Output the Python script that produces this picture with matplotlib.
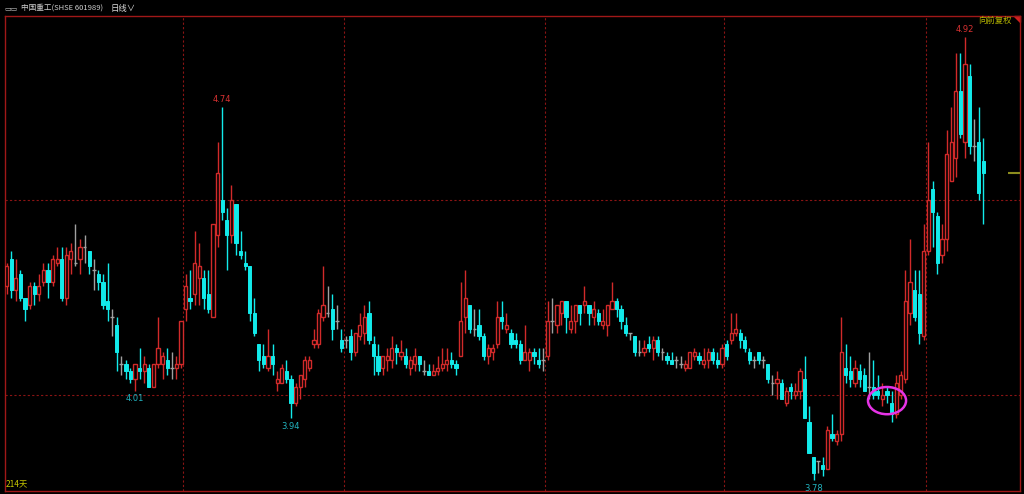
import numpy as np
import matplotlib
matplotlib.use('Agg')
import matplotlib.pyplot as plt
from matplotlib.patches import Ellipse, Polygon

# daily OHLC, 214 sessions
opens = [4.28, 4.35, 4.27, 4.31, 4.25, 4.23, 4.28, 4.26, 4.29, 4.32,
         4.29, 4.34, 4.35, 4.25, 4.35, 4.34, 4.35, 4.38, 4.37, 4.32,
         4.31, 4.29, 4.24, 4.20, 4.18, 4.08, 4.08, 4.06, 4.04, 4.07,
         4.06, 4.07, 4.02, 4.08, 4.08, 4.09, 4.07, 4.07, 4.08, 4.22,
         4.25, 4.26, 4.30, 4.30, 4.26, 4.20, 4.41, 4.50, 4.45, 4.41,
         4.49, 4.37, 4.34, 4.33, 4.21, 4.13, 4.10, 4.07, 4.10, 4.03,
         4.03, 4.06, 4.04, 3.98, 4.02, 4.04, 4.07, 4.13, 4.13, 4.20,
         4.21, 4.22, 4.19, 4.14, 4.14, 4.15, 4.11, 4.15, 4.16, 4.21,
         4.13, 4.10, 4.07, 4.09, 4.09, 4.12, 4.10, 4.10, 4.07, 4.08,
         4.10, 4.06, 4.06, 4.05, 4.06, 4.07, 4.08, 4.09, 4.08, 4.10,
         4.20, 4.23, 4.17, 4.18, 4.15, 4.10, 4.11, 4.13, 4.20, 4.17,
         4.16, 4.14, 4.13, 4.09, 4.09, 4.11, 4.09, 4.09, 4.10, 4.19,
         4.18, 4.21, 4.24, 4.17, 4.19, 4.23, 4.23, 4.23, 4.20, 4.21,
         4.18, 4.18, 4.22, 4.24, 4.22, 4.18, 4.16, 4.15, 4.11, 4.11,
         4.13, 4.12, 4.14, 4.11, 4.10, 4.09, 4.09, 4.08, 4.07, 4.07,
         4.10, 4.10, 4.08, 4.09, 4.11, 4.09, 4.08, 4.13, 4.14, 4.16,
         4.16, 4.14, 4.11, 4.09, 4.11, 4.09, 4.08, 4.03, 4.03, 4.03,
         3.98, 4.02, 4.00, 4.01, 4.04, 3.93, 3.84, 3.83, 3.82, 3.81,
         3.90, 3.88, 3.90, 4.07, 4.06, 4.03, 4.06, 4.05, 4.02, 4.02,
         4.01, 3.99, 4.01, 3.98, 3.95, 4.00, 4.04, 4.21, 4.27, 4.26,
         4.15, 4.37, 4.53, 4.46, 4.36, 4.40, 4.55, 4.61, 4.78, 4.65,
         4.82, 4.64, 4.65, 4.60]
highs = [4.34, 4.37, 4.35, 4.32, 4.25, 4.29, 4.29, 4.31, 4.34, 4.34,
         4.36, 4.38, 4.38, 4.38, 4.39, 4.44, 4.40, 4.41, 4.37, 4.35,
         4.32, 4.31, 4.34, 4.22, 4.20, 4.10, 4.09, 4.07, 4.08, 4.12,
         4.10, 4.08, 4.08, 4.20, 4.11, 4.12, 4.11, 4.10, 4.19, 4.31,
         4.32, 4.42, 4.39, 4.32, 4.32, 4.44, 4.65, 4.74, 4.48, 4.54,
         4.49, 4.42, 4.37, 4.33, 4.25, 4.13, 4.13, 4.17, 4.13, 4.06,
         4.08, 4.09, 4.05, 4.03, 4.05, 4.10, 4.10, 4.17, 4.22, 4.33,
         4.28, 4.26, 4.23, 4.17, 4.15, 4.17, 4.16, 4.21, 4.23, 4.24,
         4.15, 4.13, 4.10, 4.12, 4.15, 4.13, 4.14, 4.12, 4.10, 4.12,
         4.10, 4.09, 4.08, 4.08, 4.10, 4.12, 4.12, 4.11, 4.09, 4.29,
         4.32, 4.23, 4.22, 4.22, 4.16, 4.13, 4.13, 4.24, 4.24, 4.21,
         4.17, 4.16, 4.14, 4.18, 4.12, 4.12, 4.12, 4.12, 4.24, 4.25,
         4.23, 4.24, 4.24, 4.23, 4.23, 4.23, 4.28, 4.23, 4.24, 4.22,
         4.22, 4.23, 4.29, 4.25, 4.23, 4.20, 4.16, 4.15, 4.14, 4.14,
         4.15, 4.15, 4.15, 4.12, 4.11, 4.11, 4.10, 4.10, 4.09, 4.11,
         4.12, 4.11, 4.12, 4.12, 4.12, 4.11, 4.13, 4.14, 4.21, 4.21,
         4.17, 4.15, 4.12, 4.10, 4.11, 4.10, 4.08, 4.05, 4.06, 4.04,
         4.02, 4.03, 4.03, 4.07, 4.10, 3.97, 3.84, 3.83, 3.84, 3.92,
         3.95, 3.91, 4.20, 4.13, 4.10, 4.09, 4.08, 4.07, 4.11, 4.09,
         4.05, 4.03, 4.02, 4.01, 4.05, 4.06, 4.32, 4.40, 4.32, 4.32,
         4.44, 4.65, 4.55, 4.47, 4.44, 4.68, 4.74, 4.88, 4.88, 4.92,
         4.85, 4.71, 4.74, 4.66]
lows = [4.26, 4.25, 4.24, 4.24, 4.19, 4.22, 4.23, 4.24, 4.28, 4.25,
        4.28, 4.33, 4.24, 4.23, 4.31, 4.33, 4.31, 4.34, 4.31, 4.27,
        4.27, 4.22, 4.19, 4.15, 4.06, 4.05, 4.04, 4.03, 4.01, 4.04,
        4.03, 4.02, 4.02, 4.07, 4.04, 4.05, 4.04, 4.04, 4.07, 4.19,
        4.22, 4.23, 4.23, 4.22, 4.21, 4.20, 4.38, 4.45, 4.32, 4.39,
        4.36, 4.35, 4.32, 4.19, 4.15, 4.06, 4.07, 4.06, 4.05, 4.01,
        4.03, 4.03, 3.94, 3.97, 3.99, 4.02, 4.06, 4.12, 4.12, 4.19,
        4.20, 4.14, 4.17, 4.11, 4.12, 4.09, 4.10, 4.14, 4.13, 4.13,
        4.05, 4.05, 4.05, 4.06, 4.07, 4.08, 4.09, 4.07, 4.05, 4.06,
        4.06, 4.05, 4.05, 4.05, 4.05, 4.06, 4.06, 4.07, 4.05, 4.10,
        4.16, 4.16, 4.15, 4.14, 4.09, 4.08, 4.09, 4.12, 4.17, 4.16,
        4.12, 4.12, 4.08, 4.09, 4.06, 4.08, 4.07, 4.06, 4.09, 4.16,
        4.16, 4.18, 4.16, 4.16, 4.16, 4.18, 4.21, 4.18, 4.18, 4.18,
        4.17, 4.15, 4.22, 4.20, 4.17, 4.15, 4.14, 4.10, 4.10, 4.10,
        4.11, 4.09, 4.10, 4.09, 4.08, 4.08, 4.07, 4.07, 4.06, 4.07,
        4.09, 4.08, 4.07, 4.07, 4.08, 4.07, 4.07, 4.09, 4.13, 4.15,
        4.12, 4.11, 4.08, 4.07, 4.08, 4.07, 4.03, 4.00, 3.99, 3.99,
        3.97, 3.99, 3.99, 3.99, 3.94, 3.85, 3.78, 3.80, 3.79, 3.81,
        3.88, 3.87, 3.88, 4.03, 4.02, 4.02, 4.02, 4.01, 3.99, 3.99,
        3.99, 3.97, 3.98, 3.93, 3.94, 3.99, 4.03, 4.18, 4.19, 4.13,
        4.14, 4.36, 4.38, 4.31, 4.34, 4.37, 4.55, 4.56, 4.66, 4.61,
        4.62, 4.60, 4.50, 4.44]
closes = [4.33, 4.27, 4.30, 4.25, 4.22, 4.28, 4.26, 4.28, 4.32, 4.29,
          4.35, 4.35, 4.25, 4.36, 4.37, 4.34, 4.38, 4.38, 4.33, 4.32,
          4.29, 4.23, 4.22, 4.20, 4.11, 4.08, 4.06, 4.04, 4.08, 4.06,
          4.08, 4.02, 4.08, 4.12, 4.10, 4.07, 4.07, 4.08, 4.19, 4.28,
          4.24, 4.34, 4.33, 4.25, 4.22, 4.44, 4.57, 4.47, 4.41, 4.50,
          4.39, 4.36, 4.33, 4.21, 4.16, 4.09, 4.08, 4.10, 4.08, 4.04,
          4.07, 4.04, 3.98, 4.02, 4.05, 4.09, 4.09, 4.14, 4.21, 4.23,
          4.21, 4.17, 4.19, 4.12, 4.14, 4.11, 4.16, 4.18, 4.20, 4.14,
          4.10, 4.06, 4.10, 4.10, 4.12, 4.11, 4.11, 4.08, 4.09, 4.10,
          4.08, 4.06, 4.05, 4.06, 4.07, 4.08, 4.09, 4.08, 4.07, 4.19,
          4.25, 4.17, 4.17, 4.15, 4.10, 4.12, 4.12, 4.20, 4.19, 4.18,
          4.13, 4.13, 4.09, 4.11, 4.11, 4.10, 4.08, 4.09, 4.19, 4.19,
          4.23, 4.24, 4.20, 4.19, 4.23, 4.21, 4.24, 4.21, 4.22, 4.19,
          4.19, 4.23, 4.24, 4.22, 4.19, 4.16, 4.16, 4.11, 4.11, 4.12,
          4.12, 4.14, 4.11, 4.11, 4.09, 4.08, 4.09, 4.08, 4.08, 4.11,
          4.11, 4.09, 4.09, 4.11, 4.09, 4.08, 4.12, 4.10, 4.16, 4.17,
          4.14, 4.12, 4.09, 4.09, 4.09, 4.09, 4.04, 4.03, 4.04, 3.99,
          4.01, 4.01, 4.01, 4.06, 3.94, 3.85, 3.80, 3.83, 3.81, 3.91,
          3.89, 3.90, 4.11, 4.05, 4.04, 4.07, 4.04, 4.01, 4.02, 4.00,
          4.00, 4.00, 4.00, 3.95, 4.03, 4.05, 4.24, 4.29, 4.20, 4.16,
          4.37, 4.50, 4.47, 4.34, 4.40, 4.62, 4.65, 4.78, 4.67, 4.85,
          4.64, 4.64, 4.52, 4.57]

month_starts = [39, 74, 118, 157, 201]   # first session of each new month
hi_marks = [47, 209]                     # labelled local highs
lo_marks = [28, 62, 176]                 # labelled local lows
grid_prices = [4.00, 4.50]

RED = '#d22a2a'
CYAN = '#12eaea'
GRAY = '#a0a0a0'
DIM_RED = '#8a1414'

o = np.array(opens); h = np.array(highs); l = np.array(lows); c = np.array(closes)
x = np.arange(len(c))
up = c > o + 1e-9
dn = c < o - 1e-9
flat = ~(up | dn)

fig = plt.figure(figsize=(10.24, 4.94), dpi=100, facecolor='black')
ax = fig.add_axes([5/1024, 3/494, 1015/1024, 475/494])
ax.set_facecolor('black')

# grid
for p in grid_prices:
    ax.axhline(p, color=DIM_RED, lw=0.8, ls=(0, (2, 2)), zorder=1)
for m in month_starts:
    ax.axvline(m - 0.5, color=DIM_RED, lw=0.8, ls=(0, (2, 2)), zorder=1)

w = 0.7
# up candles: hollow red
ax.vlines(x[up], l[up], h[up], color=RED, lw=1, zorder=2)
ax.bar(x[up], (c - o)[up], bottom=o[up], width=w, facecolor='black',
       edgecolor=RED, linewidth=1.0, zorder=3)
# down candles: filled cyan
ax.vlines(x[dn], l[dn], h[dn], color=CYAN, lw=1, zorder=2)
ax.bar(x[dn], (o - c)[dn], bottom=c[dn], width=w, facecolor=CYAN,
       edgecolor=CYAN, linewidth=0.7, zorder=3)
# flat candles
ax.vlines(x[flat], l[flat], h[flat], color=GRAY, lw=1, zorder=2)
ax.hlines(c[flat], x[flat] - 0.4, x[flat] + 0.4, color=GRAY, lw=1, zorder=3)

for i in hi_marks:
    ax.annotate(f'{h[i]:.2f}', (i, h[i]), xytext=(0, 2.5), textcoords='offset points',
                ha='center', va='bottom', color='#d83232', fontsize=6)
for i in lo_marks:
    ax.annotate(f'{l[i]:.2f}', (i, l[i]), xytext=(0, -2.5), textcoords='offset points',
                ha='center', va='top', color='#22b4c0', fontsize=6)

# highlight circle
ax.add_patch(Ellipse((192.0, 3.985), width=8.3, height=0.07, fill=False,
                     edgecolor='#e633e6', lw=1.8, zorder=5))

ax.set_xlim(-0.37, 221.0)
ax.set_ylim(3.7526, 4.974)

# last close marker at right edge
ax.hlines(c[-1], 218.3, 221.0, color='#8c8c1e', lw=1.5, zorder=4)
ax.add_patch(Polygon([(0.994, 1.0), (1.0, 1.0), (1.0, 0.988)], closed=True,
                     transform=ax.transAxes, color='#d02020', clip_on=False))

ax.set_xticks([])
ax.set_yticks([])
for s in ax.spines.values():
    s.set_color('#a01818')
    s.set_linewidth(1)

cjk = ['Noto Sans CJK SC', 'DejaVu Sans']
fig.text(4/1024, 1 - 8/494, '▭▭', color='#bdbdbd', fontsize=5, va='center', family=cjk[::-1])
fig.text(21/1024, 1 - 8/494, '中国重工(SHSE 601989)', color='#cfcfcf', fontsize=5.5,
         va='center', family=cjk)
fig.text(111/1024, 1 - 8/494, '日线∨', color='#dcdcdc', fontsize=6, va='center', family=cjk)
fig.text(1012/1024, 1 - 20/494, '向前复权', color='#b8b800', fontsize=6, ha='right',
         va='center', family=cjk)
fig.text(6/1024, 1 - 484/494, '214天', color='#c8c800', fontsize=6, va='center', family=cjk)

fig.savefig('out.png', dpi=100, facecolor='black')
